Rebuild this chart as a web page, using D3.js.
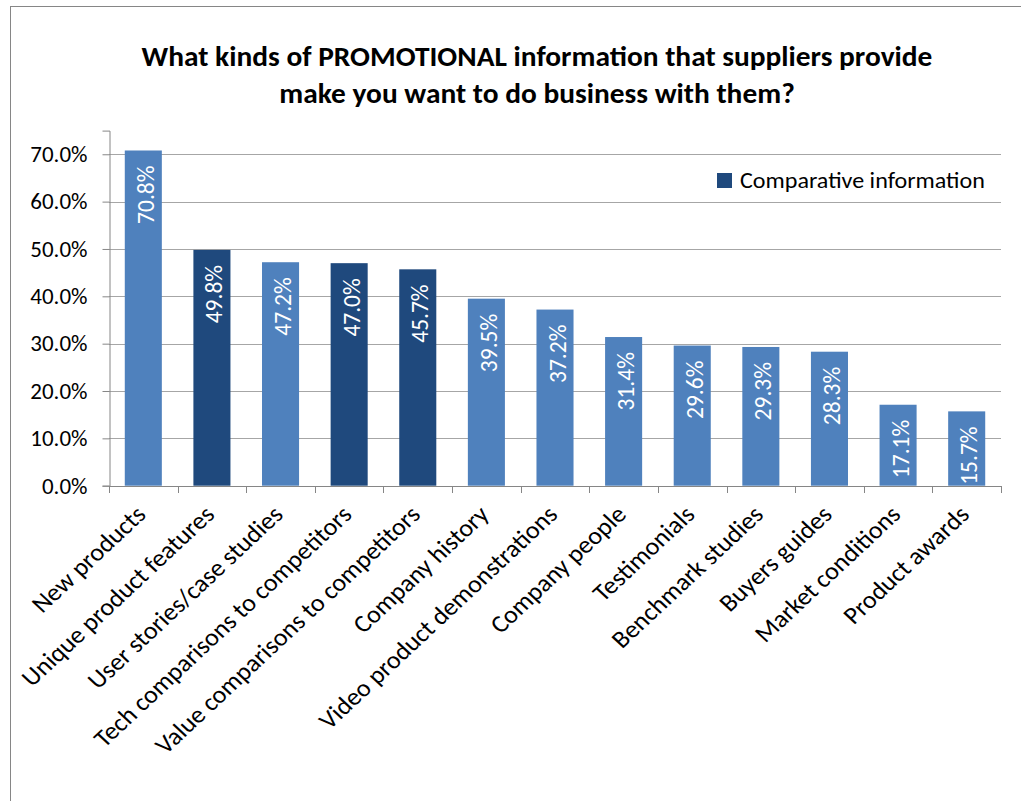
<!DOCTYPE html>
<html>
<head>
<meta charset="utf-8">
<script src="https://cdn.jsdelivr.net/npm/d3@7"></script>
<style>
  html, body { margin: 0; padding: 0; background: #fff; }
  svg { display: block; }
  text { font-family: Carlito, Calibri, "Open Sans", sans-serif; }
</style>
</head>
<body>
<svg id="chart" width="1021" height="801"></svg>
<script>
// Survey answers, share of respondents
const categories = [
  "New products", "Unique product features", "User stories/case studies",
  "Tech comparisons to competitors", "Value comparisons to competitors",
  "Company history", "Video product demonstrations", "Company people",
  "Testimonials", "Benchmark studies", "Buyers guides",
  "Market conditions", "Product awards"
];
const values = [70.8, 49.8, 47.2, 47.0, 45.7, 39.5, 37.2, 31.4, 29.6, 29.3, 28.3, 17.1, 15.7];
// Items that belong to the "Comparative information" group
const comparative = [false, true, false, true, true, false, false, false, false, false, false, false, false];
const yTicks = [0, 10, 20, 30, 40, 50, 60, 70];
const titleLines = [
  "What kinds of PROMOTIONAL information that suppliers provide",
  "make you want to do business with them?"
];
const legendLabel = "Comparative information";

const W = 1021, H = 801;
const plot = { left: 109, right: 1001, top: 130.6, bottom: 485.7 };
const colLight = "#4F81BD", colDark = "#1F497D";
const FONT = 'Carlito, Calibri, "Open Sans", sans-serif';
const SX = 1.07; // slight horizontal widening of all lettering

const svg = d3.select("#chart");

// outer frame
svg.append("rect")
  .attr("x", 10.5).attr("y", 6.5)
  .attr("width", W + 40).attr("height", H + 40)
  .attr("fill", "#fff").attr("stroke", "#868686").attr("stroke-width", 1);

// title
svg.append("g").selectAll("text").data(titleLines).join("text")
  .attr("transform", (d, i) => `translate(537,${66 + i * 37}) scale(${SX},1)`)
  .attr("text-anchor", "middle")
  .attr("font-size", 27.5).attr("font-weight", "bold").attr("fill", "#000")
  .text(d => d);

const x = d3.scaleBand().domain(categories)
  .range([plot.left, plot.right]).paddingInner(0.46).paddingOuter(0.23);
const y = d3.scaleLinear().domain([0, 75]).range([plot.bottom, plot.top]);

// horizontal gridlines
svg.append("g").selectAll("line").data(yTicks.filter(t => t > 0)).join("line")
  .attr("x1", plot.left).attr("x2", plot.right)
  .attr("y1", d => Math.round(y(d)) + 0.5).attr("y2", d => Math.round(y(d)) + 0.5)
  .attr("stroke", "#a6a6a6").attr("stroke-width", 1);

// bars
svg.append("g").selectAll("rect").data(values).join("rect")
  .attr("x", (d, i) => x(categories[i]))
  .attr("y", d => y(d))
  .attr("width", x.bandwidth())
  .attr("height", d => y(0) - y(d))
  .attr("fill", (d, i) => comparative[i] ? colDark : colLight);

// value labels inside bars
svg.append("g").selectAll("text").data(values).join("text")
  .attr("transform", (d, i) =>
    `translate(${x(categories[i]) + x.bandwidth() / 2 + 1.5},${y(d) + 15}) scale(${SX},1) rotate(-90)`)
  .attr("text-anchor", "end").attr("dy", "0.36em")
  .attr("font-size", 23.5).attr("fill", "#fff")
  .text(d => d.toFixed(1) + "%");

// y axis
const yAxis = d3.axisLeft(y).tickValues(yTicks)
  .tickSize(7).tickPadding(15)
  .tickFormat(d => d.toFixed(1) + "%");
const gy = svg.append("g").attr("transform", `translate(${plot.left + 0.5},0)`).call(yAxis);
gy.select(".domain").attr("stroke", "#868686");
gy.selectAll(".tick line").attr("stroke", "#868686");
gy.selectAll(".tick text")
  .attr("x", null).attr("dy", null)
  .attr("transform", `translate(-22,0) scale(${SX},1)`)
  .attr("dy", "0.34em")
  .attr("font-size", 21.5).attr("fill", "#000")
  .attr("font-family", FONT);

// x axis: ticks on category boundaries
const step = x.step();
const bounds = d3.range(categories.length + 1).map(i => plot.left + i * step);
const gx = svg.append("g");
gx.append("line")
  .attr("x1", plot.left).attr("x2", plot.right)
  .attr("y1", Math.round(plot.bottom) + 0.5).attr("y2", Math.round(plot.bottom) + 0.5)
  .attr("stroke", "#868686");
gx.selectAll("line.tk").data(bounds).join("line").attr("class", "tk")
  .attr("x1", d => Math.round(d) + 0.5).attr("x2", d => Math.round(d) + 0.5)
  .attr("y1", Math.round(plot.bottom)).attr("y2", Math.round(plot.bottom) + 7)
  .attr("stroke", "#868686");

// category labels, slanted
svg.append("g").selectAll("text").data(categories).join("text")
  .attr("transform", d => `translate(${x(d) + x.bandwidth() / 2 + 4},516) scale(${SX},1) rotate(-45)`)
  .attr("text-anchor", "end")
  .attr("font-size", 24.5).attr("fill", "#000")
  .text(d => d);

// legend
const lg = svg.append("g").attr("transform", "translate(717,173)");
lg.append("rect").attr("width", 15).attr("height", 15).attr("fill", colDark);
lg.append("text").attr("transform", `translate(23,15) scale(${SX},1)`)
  .attr("font-size", 22.5).attr("fill", "#000").text(legendLabel);
</script>
</body>
</html>
